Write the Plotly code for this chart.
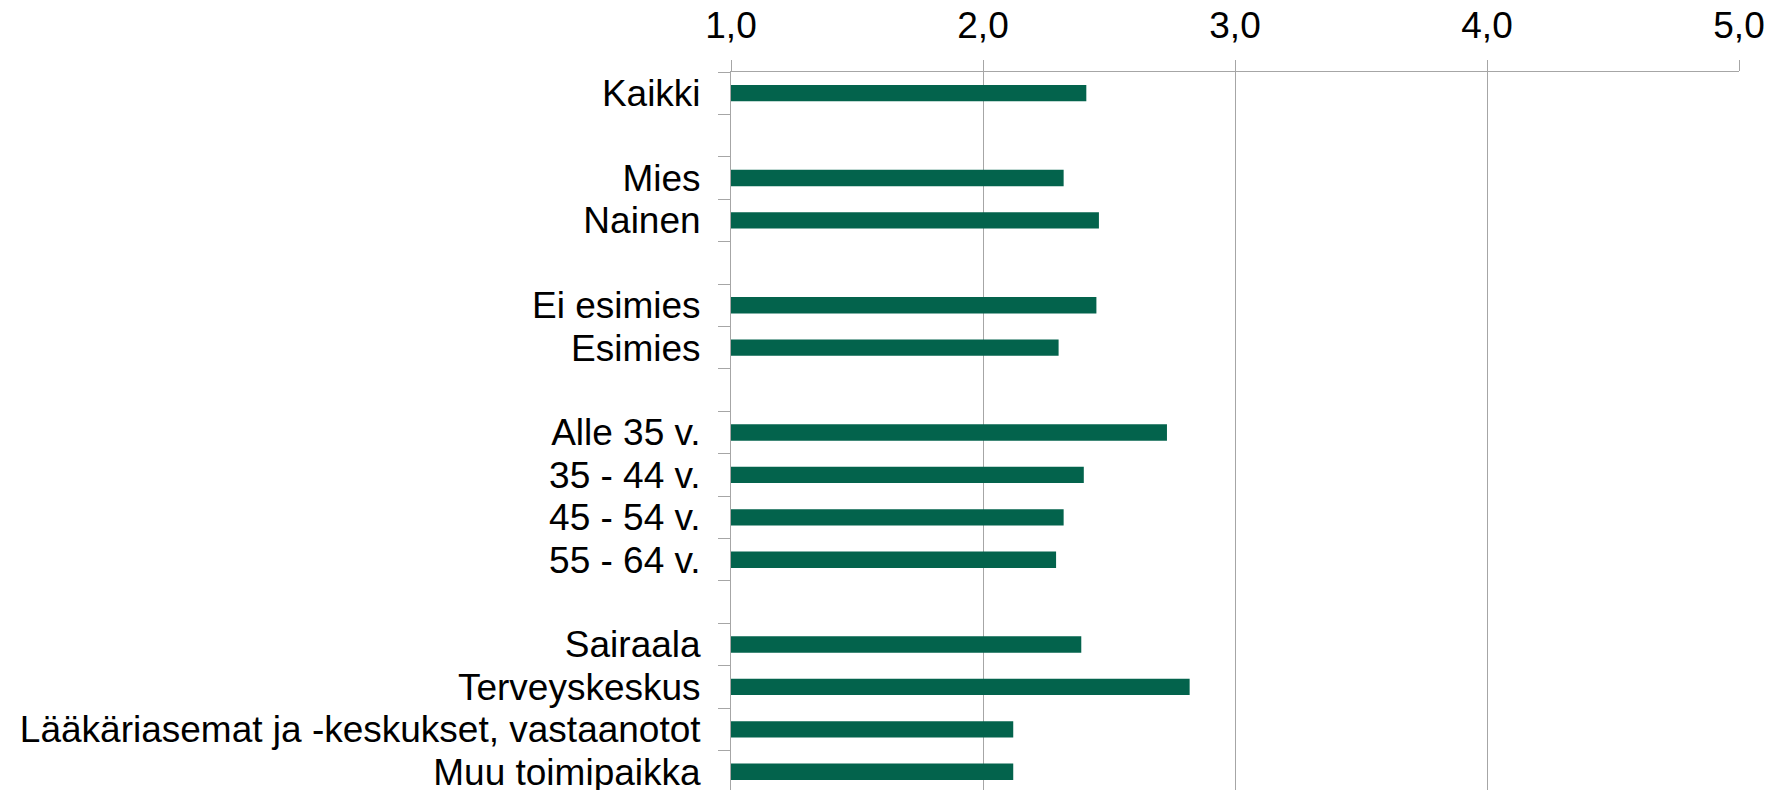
import plotly.graph_objects as go

categories = ["Kaikki", " ", "Mies", "Nainen", "  ", "Ei esimies", "Esimies", "   ",
              "Alle 35 v.", "35 - 44 v.", "45 - 54 v.", "55 - 64 v.", "    ",
              "Sairaala", "Terveyskeskus", "Lääkäriasemat ja -keskukset, vastaanotot",
              "Muu toimipaikka"]
values = [2.41, None, 2.32, 2.46, None, 2.45, 2.30, None,
          2.73, 2.40, 2.32, 2.29, None,
          2.39, 2.82, 2.12, 2.12]
x_ticks = [1, 2, 3, 4, 5]

GRID = "#A6A6A6"
BAR = "#03634C"
FONT = "Liberation Sans, Arial, sans-serif"

fig = go.Figure(go.Bar(
    y=categories, x=values, orientation="h",
    marker=dict(color=BAR, line=dict(width=0)),
    hoverinfo="skip",
))

fig.update_layout(
    width=1783, height=790,
    margin=dict(l=731, r=44, t=72, b=0, pad=0),
    plot_bgcolor="white", paper_bgcolor="white",
    separators=", ",
    bargap=0.615,
    showlegend=False,
    font=dict(family=FONT, size=37, color="#000000"),
    xaxis=dict(
        side="top", range=[1, 5], tickmode="array", tickvals=x_ticks, tickformat=".1f",
        showgrid=True, gridcolor=GRID, gridwidth=1,
        showline=True, linecolor=GRID, linewidth=1,
        ticks="outside", ticklen=11, tickcolor=GRID, tickwidth=1,
        zeroline=False, tickfont=dict(size=37, family=FONT),
        automargin=False, ticklabelstandoff=7,
        fixedrange=True,
    ),
    yaxis=dict(
        type="category", categoryorder="array", categoryarray=categories,
        tickmode="array", tickvals=categories, ticktext=categories,
        range=[16.43, -0.5], tickson="boundaries",
        ticks="outside", ticklen=12, tickcolor=GRID, tickwidth=1,
        showline=True, linecolor=GRID, linewidth=1,
        showgrid=False, zeroline=False,
        tickfont=dict(size=37, family=FONT),
        automargin=False, ticklabelstandoff=22,
        fixedrange=True,
    ),
)

fig.write_html("out.html", config={"displayModeBar": False},
               post_script="document.body.style.margin='0';")
